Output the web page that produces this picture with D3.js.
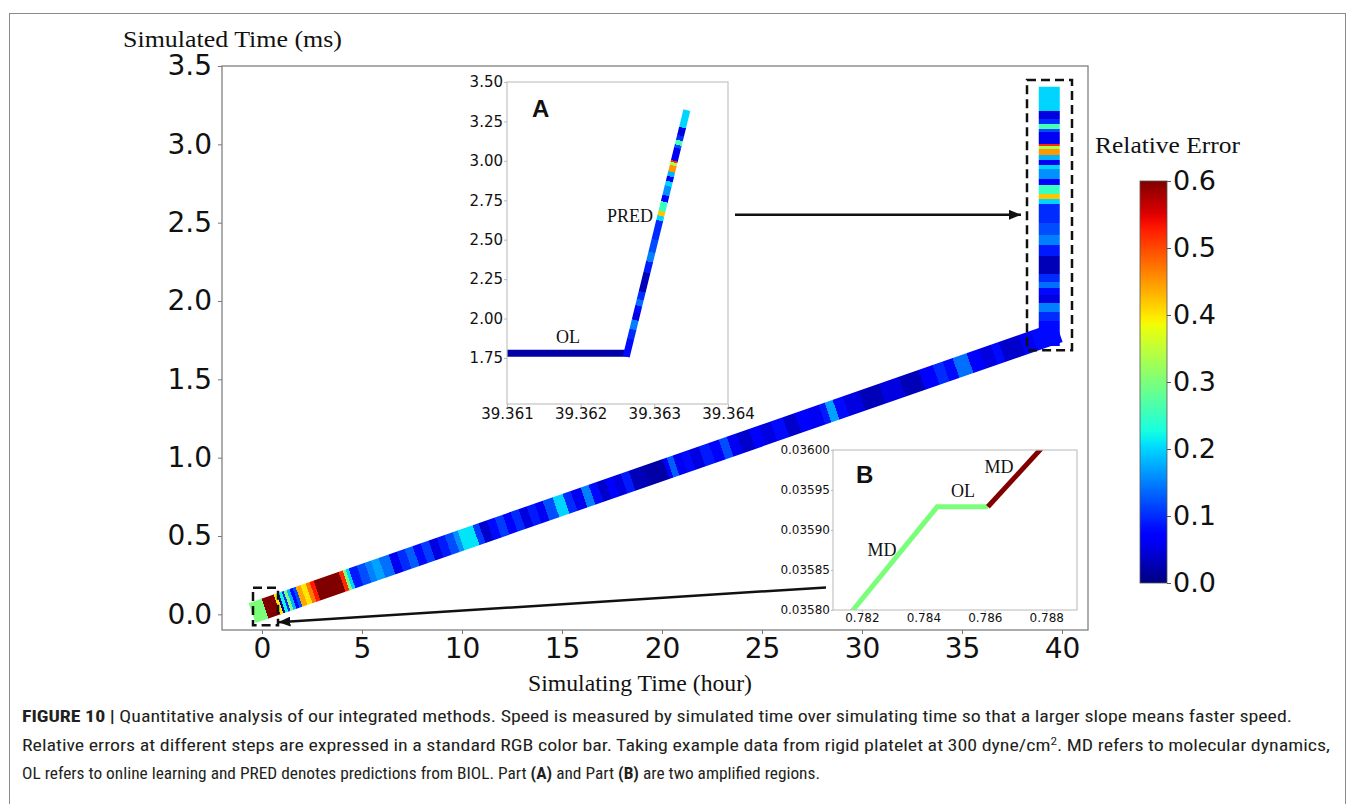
<!DOCTYPE html>
<html>
<head>
<meta charset="utf-8">
<script src="https://cdn.jsdelivr.net/npm/d3@7"></script>
<style>
body { margin: 0; background: #fff; }
svg { display: block; }
</style>
</head>
<body>
<svg id="fig"></svg>
<script>
/****************************
 * data
 ****************************/
var mainXTicks = [0, 5, 10, 15, 20, 25, 30, 35, 40];
var mainYTicks = [0, 0.5, 1, 1.5, 2, 2.5, 3, 3.5];
var errTicks = [0, 0.1, 0.2, 0.3, 0.4, 0.5, 0.6];

// diagonal leg (MD + OL), hours -> ms
var diagStart = [0, 0.03];
var diagEnd = [39.363, 1.78];
// segment start (hour) and relative error of each segment
var diagX = [0, 0.15, 0.75, 0.9, 1.0, 1.15, 1.25, 1.4, 1.55, 1.7, 1.85, 2.1, 2.35, 2.55, 2.75, 4.0, 4.2, 4.35, 4.5, 4.9,
	5.3, 5.6, 6.0, 6.5, 6.9, 7.3, 7.7, 8.1, 8.5, 8.9, 9.3, 9.7, 9.95, 10.7, 11.0, 11.4, 11.8, 12.2, 12.6, 13.0,
	13.4, 13.8, 14.2, 14.7, 15.2, 15.6, 16.1, 16.5, 16.9, 17.3, 17.7, 18.1, 18.5, 19.2, 20.2, 20.4, 20.7, 21.1, 21.5, 22.0,
	22.5, 23.0, 23.4, 23.9, 24.5, 25.0, 25.6, 26.2, 26.8, 27.4, 28.0, 28.3, 28.7, 29.2, 30.0, 31.0, 32.0, 33.0, 33.7, 34.2,
	34.7, 35.4, 36.0, 36.6, 37.0, 38.0, 38.6];
var diagErr = [0.30, 0.60, 0.40, 0.02, 0.22, 0.10, 0.30, 0.18, 0.08, 0.12, 0.44, 0.40, 0.47, 0.53, 0.60, 0.52, 0.30, 0.20, 0.09, 0.12,
	0.15, 0.17, 0.14, 0.06, 0.10, 0.13, 0.08, 0.11, 0.05, 0.09, 0.12, 0.16, 0.21, 0.11, 0.04, 0.08, 0.11, 0.07, 0.10, 0.05,
	0.09, 0.06, 0.12, 0.20, 0.10, 0.06, 0.15, 0.08, 0.04, 0.07, 0.05, 0.09, 0.03, 0.02, 0.07, 0.13, 0.06, 0.08, 0.05, 0.09,
	0.07, 0.12, 0.06, 0.04, 0.07, 0.05, 0.08, 0.04, 0.07, 0.06, 0.09, 0.17, 0.08, 0.05, 0.03, 0.05, 0.03, 0.07, 0.10, 0.08,
	0.14, 0.07, 0.05, 0.08, 0.04, 0.06, 0.08];

// vertical leg (PRED): segment start (ms) and relative error
var predX = 39.363;
var predTop = 3.30;
var predY = [1.78, 1.87, 1.93, 1.99, 2.04, 2.08, 2.12, 2.17, 2.29, 2.36, 2.42, 2.50, 2.62, 2.65, 2.68, 2.74, 2.78, 2.84, 2.87, 2.90,
	2.93, 2.97, 2.99, 3.00, 3.08, 3.10, 3.13, 3.16, 3.21];
var predErr = [0.08, 0.10, 0.15, 0.05, 0.08, 0.14, 0.10, 0.03, 0.09, 0.15, 0.12, 0.10, 0.20, 0.42, 0.25, 0.07, 0.16, 0.20, 0.06, 0.18,
	0.45, 0.33, 0.52, 0.06, 0.12, 0.26, 0.10, 0.05, 0.20];

// inset A
var insetAXTicks = [39.361, 39.362, 39.363, 39.364];
var insetAYTicks = [1.75, 2.00, 2.25, 2.50, 2.75, 3.00, 3.25, 3.50];
var insetAOL = [[39.3605, 1.78], [39.36263, 1.78]];
var insetAOLErr = 0.02;
var insetAPred = [[39.36263, 1.78], [39.36343, 3.30]];

// inset B
var insetBXTicks = [0.782, 0.784, 0.786, 0.788];
var insetBYTicks = [0.0358, 0.03585, 0.0359, 0.03595, 0.036];
var insetBGreen = [[0.78129, 0.03578], [0.78445, 0.035929], [0.7861, 0.035929]];
var insetBGreenErr = 0.30;
var insetBRed = [[0.7861, 0.035929], [0.78827, 0.03602]];
var insetBRedErr = 0.60;

/****************************
 * setup
 ****************************/
var width = 1355;
var height = 804;
var svg = d3.select('#fig').attr('width', width).attr('height', height);
var defs = svg.append('defs');

// jet colormap
var jetR = d3.scaleLinear().domain([0, 0.35, 0.66, 0.89, 1]).range([0, 0, 1, 1, 0.5]).clamp(true);
var jetG = d3.scaleLinear().domain([0, 0.125, 0.375, 0.64, 0.91, 1]).range([0, 0, 1, 1, 0, 0]).clamp(true);
var jetB = d3.scaleLinear().domain([0, 0.11, 0.34, 0.65, 1]).range([0.5, 1, 1, 0, 0]).clamp(true);
var errNorm = d3.scaleLinear().domain([0, 0.6]).range([0, 1]).clamp(true);
function jet(t) { return d3.rgb(jetR(t) * 255, jetG(t) * 255, jetB(t) * 255).formatHex(); }
function errColor(e) { return jet(errNorm(e)); }

function stepGradient(id, p1, p2, starts, errs, lo, hi) {
	var g = defs.append('linearGradient').attr('id', id)
		.attr('gradientUnits', 'userSpaceOnUse')
		.attr('x1', p1[0]).attr('y1', p1[1]).attr('x2', p2[0]).attr('y2', p2[1]);
	starts.forEach(function(s, i) {
		var a = (s - lo) / (hi - lo);
		var b = i < starts.length - 1 ? (starts[i + 1] - lo) / (hi - lo) : 1;
		g.append('stop').attr('offset', a).attr('stop-color', errColor(errs[i]));
		g.append('stop').attr('offset', b).attr('stop-color', errColor(errs[i]));
	});
}

function styleAxis(g, size, color) {
	g.select('.domain').remove();
	g.selectAll('line').attr('stroke', color);
	g.selectAll('text').attr('font-family', 'DejaVu Sans').attr('font-size', size).attr('fill', '#111');
}

// outer figure frame
svg.append('rect').attr('x', 9.5).attr('y', 13.5).attr('width', 1336).attr('height', 820)
	.attr('fill', 'none').attr('stroke', '#8a8a8a').attr('stroke-width', 1);

/****************************
 * main chart
 ****************************/
var x = d3.scaleLinear().domain([-2, 41.3]).range([222, 1088]);
var y = d3.scaleLinear().domain([-0.1, 3.5]).range([630, 66]);

svg.append('g').attr('transform', 'translate(0,630)')
	.call(d3.axisBottom(x).tickValues(mainXTicks).tickSize(4).tickPadding(4).tickFormat(d3.format('d')))
	.call(styleAxis, 28, '#777');
svg.append('g').attr('transform', 'translate(222,0)')
	.call(d3.axisLeft(y).tickValues(mainYTicks).tickSize(4).tickPadding(6).tickFormat(d3.format('.1f')))
	.call(styleAxis, 28, '#777');

svg.append('rect').attr('x', 222).attr('y', 66).attr('width', 866).attr('height', 564)
	.attr('fill', 'none').attr('stroke', '#808080').attr('stroke-width', 1.3);

svg.append('text').attr('x', 123).attr('y', 47)
	.attr('font-family', 'Liberation Serif').attr('font-size', 23).attr('fill', '#111')
	.attr('textLength', 219).attr('lengthAdjust', 'spacingAndGlyphs')
	.text('Simulated Time (ms)');
svg.append('text').attr('x', 528).attr('y', 691)
	.attr('font-family', 'Liberation Serif').attr('font-size', 24).attr('fill', '#111')
	.attr('textLength', 224).attr('lengthAdjust', 'spacingAndGlyphs')
	.text('Simulating Time (hour)');

// colored band
var d0 = [x(diagStart[0]), y(diagStart[1])];
var d1 = [x(diagEnd[0]), y(diagEnd[1])];
stepGradient('diagGrad', d0, d1, diagX, diagErr, diagStart[0], diagEnd[0]);
svg.append('line').attr('x1', d0[0]).attr('y1', d0[1]).attr('x2', d1[0]).attr('y2', d1[1])
	.attr('stroke', 'url(#diagGrad)').attr('stroke-width', 21).attr('stroke-linecap', 'square');

var v0 = [x(predX), y(predY[0])];
var v1 = [x(predX), y(predTop)];
stepGradient('predGrad', [v0[0], v0[1]], [v1[0] + 0.001, v1[1]], predY, predErr, predY[0], predTop);
svg.append('line').attr('x1', v0[0]).attr('y1', v0[1]).attr('x2', v1[0]).attr('y2', v1[1])
	.attr('stroke', 'url(#predGrad)').attr('stroke-width', 21).attr('stroke-linecap', 'square');

// dashed boxes
var boxSmall = [[-0.45, 0.17], [0.8, -0.07]];
var boxBig = [[38.25, 3.41], [40.5, 1.686]];
[boxSmall, boxBig].forEach(function(b) {
	svg.append('rect')
		.attr('x', x(b[0][0])).attr('y', y(b[0][1]))
		.attr('width', x(b[1][0]) - x(b[0][0])).attr('height', y(b[1][1]) - y(b[0][1]))
		.attr('fill', 'none').attr('stroke', '#111').attr('stroke-width', 2.5)
		.attr('stroke-dasharray', '9,5');
});

// arrows
defs.append('marker').attr('id', 'head')
	.attr('markerUnits', 'userSpaceOnUse')
	.attr('markerWidth', 12).attr('markerHeight', 10)
	.attr('refX', 12).attr('refY', 5).attr('orient', 'auto')
	.append('path').attr('d', 'M0,0L12,5L0,10Z').attr('fill', '#111');

var arrowA = [[23.65, 2.55], [37.95, 2.55]];
var arrowB = [[28.2, 0.172], [0.82, -0.051]];
[arrowA, arrowB].forEach(function(a) {
	svg.append('line')
		.attr('x1', x(a[0][0])).attr('y1', y(a[0][1]))
		.attr('x2', x(a[1][0])).attr('y2', y(a[1][1]))
		.attr('stroke', '#111').attr('stroke-width', 2.5)
		.attr('marker-end', 'url(#head)');
});

/****************************
 * inset A
 ****************************/
var xA = d3.scaleLinear().domain([39.361, 39.364]).range([507, 728]);
var yA = d3.scaleLinear().domain([1.458, 3.5]).range([404, 82]);

svg.append('rect').attr('x', 507).attr('y', 82).attr('width', 221).attr('height', 322).attr('fill', '#fff');
defs.append('clipPath').attr('id', 'clipA')
	.append('rect').attr('x', 507).attr('y', 82).attr('width', 221).attr('height', 322);
var gA = svg.append('g').attr('clip-path', 'url(#clipA)');

gA.append('line')
	.attr('x1', xA(insetAOL[0][0])).attr('y1', yA(insetAOL[0][1]))
	.attr('x2', xA(insetAOL[1][0])).attr('y2', yA(insetAOL[1][1]))
	.attr('stroke', errColor(insetAOLErr)).attr('stroke-width', 7);

var a0 = [xA(insetAPred[0][0]), yA(insetAPred[0][1])];
var a1 = [xA(insetAPred[1][0]), yA(insetAPred[1][1])];
stepGradient('predGradA', a0, a1, predY, predErr, predY[0], predTop);
gA.append('line').attr('x1', a0[0]).attr('y1', a0[1]).attr('x2', a1[0]).attr('y2', a1[1])
	.attr('stroke', 'url(#predGradA)').attr('stroke-width', 7).attr('stroke-linecap', 'square');

svg.append('rect').attr('x', 507).attr('y', 82).attr('width', 221).attr('height', 322)
	.attr('fill', 'none').attr('stroke', '#c4c4c4').attr('stroke-width', 1.2);
svg.append('g').attr('transform', 'translate(0,404)')
	.call(d3.axisBottom(xA).tickValues(insetAXTicks).tickSize(3).tickPadding(1).tickFormat(d3.format('.3f')))
	.call(styleAxis, 15, '#bbb');
svg.append('g').attr('transform', 'translate(507,0)')
	.call(d3.axisLeft(yA).tickValues(insetAYTicks).tickSize(3).tickPadding(1).tickFormat(d3.format('.2f')))
	.call(styleAxis, 15, '#bbb');

svg.append('text').attr('x', 532).attr('y', 117)
	.attr('font-family', 'Liberation Sans').attr('font-weight', 'bold').attr('font-size', 24).attr('fill', '#111')
	.text('A');
svg.append('text').attr('x', 630).attr('y', 222).attr('text-anchor', 'middle')
	.attr('font-family', 'Liberation Serif').attr('font-size', 18).attr('fill', '#111')
	.text('PRED');
svg.append('text').attr('x', 568).attr('y', 343).attr('text-anchor', 'middle')
	.attr('font-family', 'Liberation Serif').attr('font-size', 18).attr('fill', '#111')
	.text('OL');

/****************************
 * inset B
 ****************************/
var xB = d3.scaleLinear().domain([0.78106, 0.789]).range([833, 1077]);
var yB = d3.scaleLinear().domain([0.0358, 0.036]).range([610, 450]);

svg.append('rect').attr('x', 833).attr('y', 450).attr('width', 244).attr('height', 160).attr('fill', '#fff');
defs.append('clipPath').attr('id', 'clipB')
	.append('rect').attr('x', 833).attr('y', 450).attr('width', 244).attr('height', 160);
var gB = svg.append('g').attr('clip-path', 'url(#clipB)');

var lineB = d3.line().x(function(d) { return xB(d[0]); }).y(function(d) { return yB(d[1]); });
gB.append('path').attr('d', lineB(insetBGreen))
	.attr('fill', 'none').attr('stroke', errColor(insetBGreenErr)).attr('stroke-width', 5)
	.attr('stroke-linejoin', 'miter');
gB.append('path').attr('d', lineB(insetBRed))
	.attr('fill', 'none').attr('stroke', errColor(insetBRedErr)).attr('stroke-width', 5);

svg.append('rect').attr('x', 833).attr('y', 450).attr('width', 244).attr('height', 160)
	.attr('fill', 'none').attr('stroke', '#c4c4c4').attr('stroke-width', 1.2);
svg.append('g').attr('transform', 'translate(0,610)')
	.call(d3.axisBottom(xB).tickValues(insetBXTicks).tickSize(2).tickPadding(1).tickFormat(d3.format('.3f')))
	.call(styleAxis, 12, '#bbb');
svg.append('g').attr('transform', 'translate(833,0)')
	.call(d3.axisLeft(yB).tickValues(insetBYTicks).tickSize(2).tickPadding(1).tickFormat(d3.format('.5f')))
	.call(styleAxis, 12, '#bbb');

svg.append('text').attr('x', 856).attr('y', 483)
	.attr('font-family', 'Liberation Sans').attr('font-weight', 'bold').attr('font-size', 24).attr('fill', '#111')
	.text('B');
[['MD', 882, 556], ['OL', 963, 497], ['MD', 999, 473]].forEach(function(l) {
	svg.append('text').attr('x', l[1]).attr('y', l[2]).attr('text-anchor', 'middle')
		.attr('font-family', 'Liberation Serif').attr('font-size', 18).attr('fill', '#111')
		.text(l[0]);
});

/****************************
 * colour bar
 ****************************/
var cb = d3.scaleLinear().domain([0, 0.6]).range([583, 181]);
var cbGrad = defs.append('linearGradient').attr('id', 'cbGrad')
	.attr('x1', 0).attr('y1', 1).attr('x2', 0).attr('y2', 0);
d3.range(0, 1.0001, 0.02).forEach(function(t) {
	cbGrad.append('stop').attr('offset', t).attr('stop-color', jet(t));
});
svg.append('rect').attr('x', 1140).attr('y', 181).attr('width', 27).attr('height', 402)
	.attr('fill', 'url(#cbGrad)').attr('stroke', '#555').attr('stroke-width', 0.8);
svg.append('g').attr('transform', 'translate(1167,0)')
	.call(d3.axisRight(cb).tickValues(errTicks).tickSize(4).tickPadding(2).tickFormat(d3.format('.1f')))
	.call(styleAxis, 27, '#555');
svg.append('text').attr('x', 1095).attr('y', 153)
	.attr('font-family', 'Liberation Serif').attr('font-size', 24).attr('fill', '#111')
	.attr('textLength', 145).attr('lengthAdjust', 'spacingAndGlyphs')
	.text('Relative Error');

/****************************
 * caption
 ****************************/
var capFont = '"Liberation Sans Narrow", "Roboto Condensed", "Liberation Sans", sans-serif';
function captionLine(yy, len, parts) {
	var t = svg.append('text').attr('x', 22).attr('y', yy)
		.attr('font-family', capFont).attr('font-size', 16.5).attr('fill', '#231f20')
		.attr('textLength', len).attr('lengthAdjust', 'spacingAndGlyphs');
	parts.forEach(function(p) {
		var s = t.append('tspan').text(p.t);
		if (p.b) s.attr('font-weight', 'bold');
		if (p.sup) s.attr('dy', -6).attr('font-size', 11);
		if (p.down) s.attr('dy', 6);
	});
}
captionLine(722, 1270, [
	{t: 'FIGURE 10 | ', b: true},
	{t: 'Quantitative analysis of our integrated methods. Speed is measured by simulated time over simulating time so that a larger slope means faster speed.'}
]);
captionLine(751, 1308, [
	{t: 'Relative errors at different steps are expressed in a standard RGB color bar. Taking example data from rigid platelet at 300 dyne/cm'},
	{t: '2', sup: true},
	{t: '. MD refers to molecular dynamics,', down: true}
]);
captionLine(779, 798, [
	{t: 'OL refers to online learning and PRED denotes predictions from BIOL. Part '},
	{t: '(A)', b: true},
	{t: ' and Part '},
	{t: '(B)', b: true},
	{t: ' are two amplified regions.'}
]);
</script>
</body>
</html>
